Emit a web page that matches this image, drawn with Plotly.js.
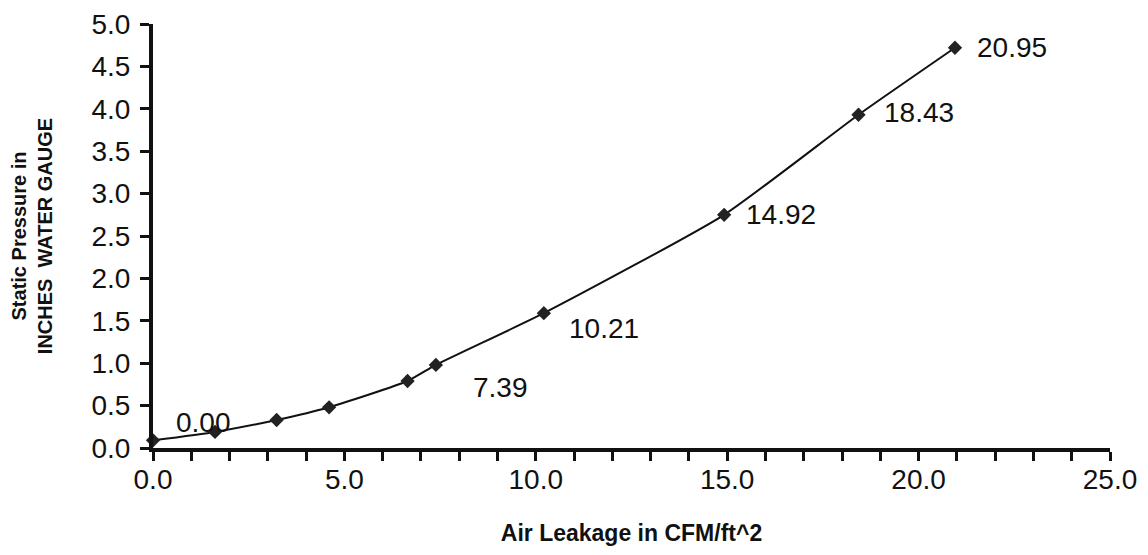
<!DOCTYPE html>
<html>
<head>
<meta charset="utf-8">
<script src="https://cdn.plot.ly/plotly-3.0.1.min.js"></script>
<style>
html,body{margin:0;padding:0;background:#fff;}
#chart{width:1148px;height:555px;}
</style>
</head>
<body>
<div id="chart"></div>
<script>
// Data
const airLeakage = [0, 1.62, 3.23, 4.60, 6.65, 7.39, 10.21, 14.92, 18.43, 20.95];
const staticPressure = [0.09, 0.19, 0.33, 0.48, 0.79, 0.98, 1.59, 2.75, 3.93, 4.72];
const labeledIndex = [0, 5, 6, 7, 8, 9];
const xTitle = "Air Leakage in CFM/ft^2";
const yTitle = "Static Pressure in<br>INCHES  WATER GAUGE";

// label offsets (style only)
const labelShift = [[50, 18], [65, -23], [60, -15], [57, 0], [60, 2], [57, 0]];

const FONT = "'Liberation Sans', Arial, sans-serif";

const trace = {
  x: airLeakage,
  y: staticPressure,
  type: 'scatter',
  mode: 'lines+markers',
  line: {color: '#111', width: 2, shape: 'spline', smoothing: 0.5},
  marker: {symbol: 'diamond', size: 11, color: '#222'},
  cliponaxis: false,
  hoverinfo: 'skip'
};

const annotations = labeledIndex.map((idx, k) => ({
  x: airLeakage[idx],
  y: staticPressure[idx],
  xref: 'x', yref: 'y',
  text: airLeakage[idx].toFixed(2),
  showarrow: false,
  xanchor: 'center', yanchor: 'middle',
  xshift: labelShift[k][0],
  yshift: labelShift[k][1],
  font: {family: FONT, size: 28, color: '#111'}
}));

const layout = {
  width: 1148, height: 555,
  margin: {l: 153, r: 38, t: 24, b: 107},
  paper_bgcolor: '#fff',
  plot_bgcolor: '#fff',
  showlegend: false,
  font: {family: FONT, color: '#111'},
  xaxis: {
    range: [0, 25],
    dtick: 5, tick0: 0,
    tickformat: '.1f',
    ticks: 'outside', ticklen: 9, tickwidth: 3, tickcolor: '#111',
    minor: {dtick: 1, ticks: 'outside', ticklen: 9, tickwidth: 3, tickcolor: '#111'},
    showline: true, linecolor: '#111', linewidth: 4,
    showgrid: false, zeroline: false,
    tickfont: {family: FONT, size: 28, color: '#111'},
    ticklabelstandoff: -6,
    title: {text: xTitle, font: {family: FONT, size: 23, color: '#111', weight: 'bold'}, standoff: 32},
    fixedrange: true
  },
  yaxis: {
    range: [0, 5],
    dtick: 0.5, tick0: 0,
    tickformat: '.1f',
    ticks: 'outside', ticklen: 9, tickwidth: 3, tickcolor: '#111',
    showline: true, linecolor: '#111', linewidth: 4,
    showgrid: false, zeroline: false,
    tickfont: {family: FONT, size: 28, color: '#111'},
    ticklabelstandoff: 4,
    title: {text: yTitle, font: {family: FONT, size: 20, color: '#111', weight: 'bold'}, standoff: 34},
    fixedrange: true
  },
  annotations: annotations
};

Plotly.newPlot('chart', [trace], layout, {displayModeBar: false, staticPlot: true});
</script>
</body>
</html>
